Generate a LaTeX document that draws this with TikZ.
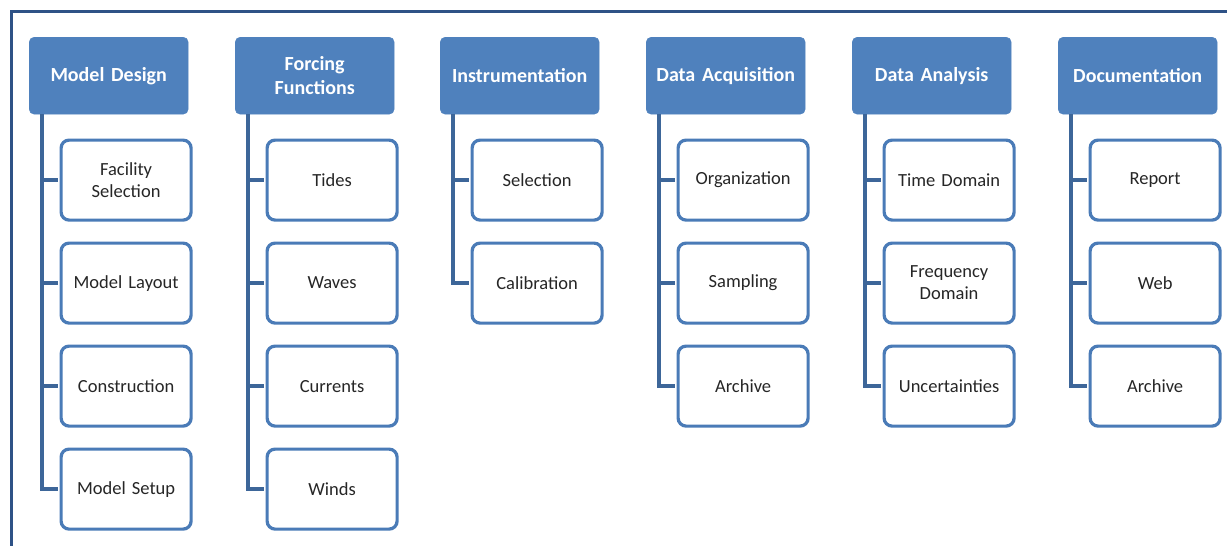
\documentclass[tikz,border=0pt]{standalone}
\usepackage{fontspec}
\setmainfont{Carlito}
\definecolor{hdrfill}{HTML}{4F81BD}
\definecolor{boxline}{HTML}{4A7BB7}
\definecolor{connline}{HTML}{3D6699}
\definecolor{frameline}{HTML}{2E5286}
\definecolor{txt}{HTML}{262626}
\tikzset{
  hdr/.style={anchor=north west, fill=hdrfill, draw=hdrfill, rounded corners=5pt,
    minimum width=159pt, minimum height=77pt, text width=157pt, align=center,
    inner sep=0pt, text=white, font=\fontsize{20}{24}\selectfont\bfseries},
  child/.style={anchor=north west, fill=white, draw=boxline, line width=3.2pt, rounded corners=8pt,
    minimum width=130pt, minimum height=80pt, text width=124pt, align=center,
    inner sep=0pt, text=txt, font=\fontsize{18.5}{22}\selectfont},
  conn/.style={draw=connline, line width=3.8pt},
}
\begin{document}
\begin{tikzpicture}[x=1pt,y=-1pt]
\useasboundingbox (0,0) rectangle (1227,546);
\begin{scope}
\clip (0,0) rectangle (1227,546);
\draw[frameline, line width=3pt] (11.5,11.5) rectangle (1250,570);
\end{scope}
% headers
\node[hdr] (h1) at (29,37) {Model Design};
\node[hdr] (h2) at (235,37) {Forcing\\Functions};
\node[hdr] (h3) at (440,37) {Instrumentation};
\node[hdr] (h4) at (646,37) {Data Acquisition};
\node[hdr] (h5) at (852,37) {Data Analysis};
\node[hdr] (h6) at (1058,37) {Documentation};
% children
\node[child] (c11) at (59.5,138.5) {Facility\\Selection};
\node[child] (c12) at (59.5,241.5) {Model Layout};
\node[child] (c13) at (59.5,344.5) {Construction};
\node[child] (c14) at (59.5,447.5) {Model Setup};
\node[child] (c21) at (265.5,138.5) {Tides};
\node[child] (c22) at (265.5,241.5) {Waves};
\node[child] (c23) at (265.5,344.5) {Currents};
\node[child] (c24) at (265.5,447.5) {Winds};
\node[child] (c31) at (470.5,138.5) {Selection};
\node[child] (c32) at (470.5,241.5) {Calibration};
\node[child] (c41) at (676.5,138.5) {Organization};
\node[child] (c42) at (676.5,241.5) {Sampling};
\node[child] (c43) at (676.5,344.5) {Archive};
\node[child] (c51) at (882.5,138.5) {Time Domain};
\node[child] (c52) at (882.5,241.5) {Frequency\\Domain};
\node[child] (c53) at (882.5,344.5) {Uncertainties};
\node[child] (c61) at (1088.5,138.5) {Report};
\node[child] (c62) at (1088.5,241.5) {Web};
\node[child] (c63) at (1088.5,344.5) {Archive};
% connectors
\foreach \h/\cs in {h1/{c11,c12,c13,c14}, h2/{c21,c22,c23,c24}, h3/{c31,c32}, h4/{c41,c42,c43}, h5/{c51,c52,c53}, h6/{c61,c62,c63}}{
  \foreach \c in \cs {
    \draw[conn] ([xshift=13pt]\h.south west) |- ([xshift=-1.5pt]\c.west);
  }
}
\end{tikzpicture}
\end{document}
